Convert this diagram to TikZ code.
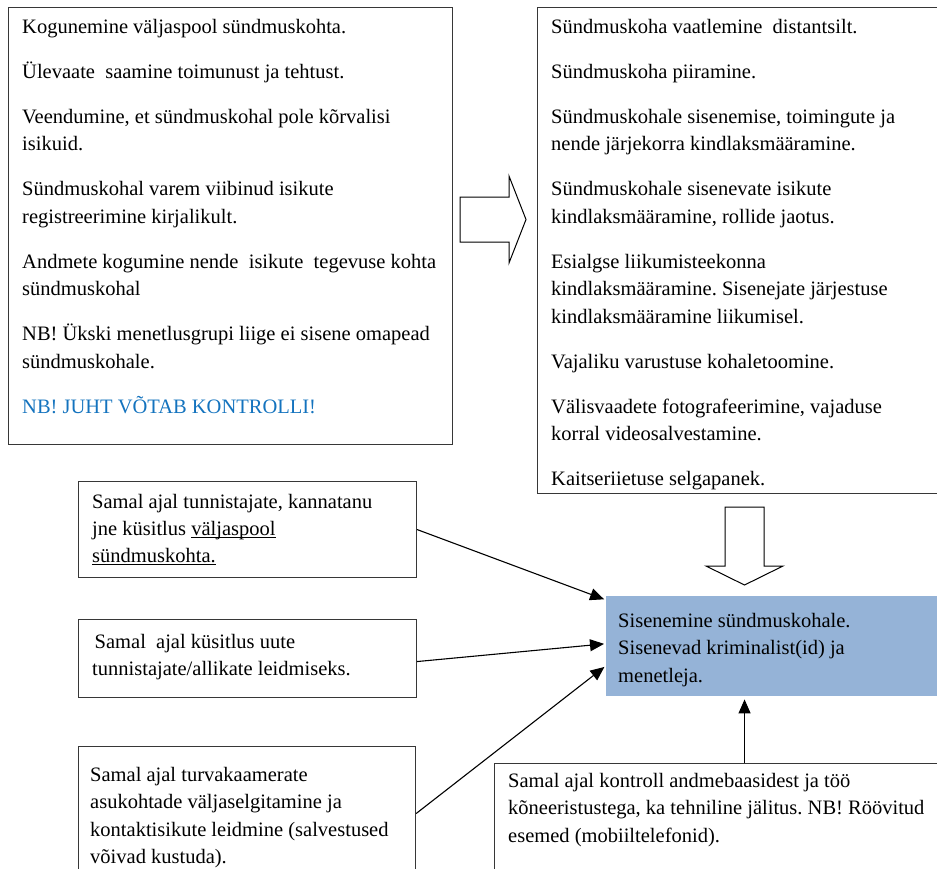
\documentclass[tikz,border=0pt]{standalone}
\usepackage{fontspec}
\setmainfont{Liberation Serif}
\usetikzlibrary{arrows.meta}
\definecolor{framegray}{RGB}{55,55,55}
\definecolor{entryblue}{RGB}{149,179,215}
\definecolor{alertblue}{RGB}{20,115,190}
% underline that runs through the descenders, as a word processor draws it
\newcommand\ulword[1]{\setbox0\hbox{#1}\rlap{\rule[-3pt]{\wd0}{1.1pt}}\box0}
\frenchspacing
\begin{document}
\begin{tikzpicture}[x=1pt,y=-1pt,
  frame/.style={draw=framegray, line width=1.1pt, rectangle, inner sep=0pt, anchor=north west},
  txt/.style={anchor=base west, inner sep=0pt, font=\fontsize{20.5}{27.5}\selectfont},
  link/.style={line width=1.1pt, shorten >=2pt, -{Triangle[length=14pt,width=12pt]}},
  bigarrow/.style={draw=black, line width=1pt, fill=white}]
\useasboundingbox (0,0) rectangle (937,868);
\clip (0,0) rectangle (937,868);

% frames
\node[frame, minimum width=444pt, minimum height=437pt] (prep) at (8,7) {};
\node[frame, minimum width=420pt, minimum height=486pt] (plan) at (537,7) {};
\node[frame, minimum width=338pt, minimum height=96pt] (witness) at (78,481) {};
\node[frame, minimum width=338pt, minimum height=78pt] (sources) at (78,619) {};
\node[frame, minimum width=337pt, minimum height=134pt] (cameras) at (78,746) {};
\node[rectangle, fill=entryblue, inner sep=0pt, anchor=north west,
      minimum width=360pt, minimum height=100pt] (entry) at (606,596) {};
\node[frame, fill=white, minimum width=500pt, minimum height=150pt] (records) at (494,763) {};

% texts
\node[txt] (preptext) at (22,33) {\parbox[t]{425pt}{%
Kogunemine väljaspool sündmuskohta.\\[17.5pt]
Ülevaate\ \ saamine toimunust ja tehtust.\\[17.5pt]
Veendumine, et sündmuskohal pole kõrvalisi\\
isikuid.\\[17.5pt]
Sündmuskohal varem viibinud isikute\\
registreerimine kirjalikult.\\[17.5pt]
Andmete kogumine nende\ \ isikute\ \ tegevuse kohta\\
sündmuskohal\\[17.5pt]
NB! Ükski menetlusgrupi liige ei sisene omapead\\
sündmuskohale.\\[17.5pt]
\textcolor{alertblue}{NB! JUHT VÕTAB KONTROLLI!}}};

\node[txt] (plantext) at (551,33) {\parbox[t]{420pt}{%
Sündmuskoha vaatlemine\ \ distantsilt.\\[17.5pt]
Sündmuskoha piiramine.\\[17.5pt]
Sündmuskohale sisenemise, toimingute ja\\
nende järjekorra kindlaksmääramine.\\[17.5pt]
Sündmuskohale sisenevate isikute\\
kindlaksmääramine, rollide jaotus.\\[17.5pt]
Esialgse liikumisteekonna\\
kindlaksmääramine. Sisenejate järjestuse\\
kindlaksmääramine liikumisel.\\[17.5pt]
Vajaliku varustuse kohaletoomine.\\[17.5pt]
Välisvaadete fotografeerimine, vajaduse\\
korral videosalvestamine.\\[17.5pt]
Kaitseriietuse selgapanek.}};

\node[txt, font=\fontsize{20.5}{27.8}\selectfont] (entrytext) at (618,627) {\parbox[t]{320pt}{%
Sisenemine sündmuskohale.\\
Sisenevad kriminalist(id) ja\\
menetleja.}};

\node[txt, font=\fontsize{20.5}{27}\selectfont] (witnesstext) at (92,508) {\parbox[t]{320pt}{%
Samal ajal tunnistajate, kannatanu\\
jne küsitlus \ulword{väljaspool}\\
\ulword{sündmuskohta.}}};

\node[txt] (sourcestext) at (92,648) {\parbox[t]{320pt}{%
\hspace*{2.5pt}Samal\ \ ajal küsitlus uute\\
tunnistajate/allikate leidmiseks.}};

\node[txt] (camerastext) at (90,781) {\parbox[t]{320pt}{%
Samal ajal turvakaamerate\\
asukohtade väljaselgitamine ja\\
kontaktisikute leidmine (salvestused\\
võivad kustuda).}};

\node[txt] (recordstext) at (508,787) {\parbox[t]{430pt}{%
Samal ajal kontroll andmebaasidest ja töö\\
kõneeristustega, ka tehniline jälitus. NB! Röövitud\\
esemed (mobiiltelefonid).}};

% block arrows
\draw[bigarrow] (460,197) -- (509,197) -- (509,176) -- (526,219.5)
  -- (509,263) -- (509,242) -- (460,242) -- cycle;
\draw[bigarrow] (725,507) -- (764,507) -- (764,566) -- (783,566)
  -- (744.5,585) -- (706,566) -- (725,566) -- cycle;

% connectors into the entry box
\draw[link] (witness.east) -- ([yshift=-4pt]entry.north west);
\draw[link] ([yshift=-3pt]sources.east) -- ([yshift=2.5pt]entry.west);
\draw[link] (cameras.east) -- ([yshift=-19.5pt]entry.west);
\draw[link, shorten >=3pt] (records.north) -- (records.north |- entry.south);
\end{tikzpicture}
\end{document}
